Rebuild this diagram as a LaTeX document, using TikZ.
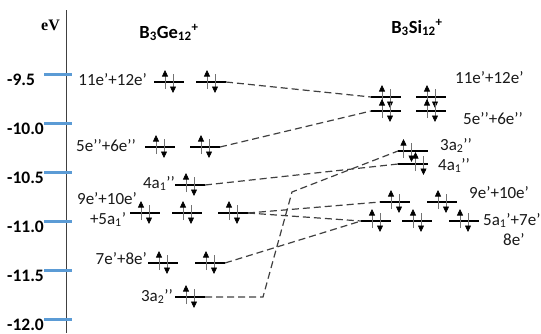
\documentclass[tikz,border=0pt]{standalone}
\usepackage{fontspec}
\setmainfont{Carlito}
\newfontfamily\unitfont{Liberation Serif}
\usetikzlibrary{arrows.meta}

% one electron pair drawn on a level: #1 = level node, #2 = horizontal shift
\newcommand\epair[2]{%
  \draw[spin] ([shift={(#2-4,7)}]#1.center) -- ++(0,-19);
  \draw[spin] ([shift={(#2+4,-8)}]#1.center) -- ++(0,19);
}

\begin{document}
\begin{tikzpicture}[x=1pt,y=-1pt,
  level/.style={rectangle,fill=black,draw=none,minimum width=30pt,minimum height=2.8pt,inner sep=0pt,outer sep=0pt},
  spin/.style={line width=0.6pt,draw=black!55,-{Triangle[width=6pt,length=6.5pt,color=black]}},
  link/.style={line width=1.2pt,draw=black!75,dash pattern=on 7pt off 4pt},
  tickmark/.style={line width=3pt,draw={rgb,255:red,91;green,155;blue,213}},
  lab/.style={font=\fontsize{17}{19}\selectfont,inner sep=0pt,text=black!90},
  ticklab/.style={font=\fontsize{17.5}{19}\selectfont\bfseries,inner sep=0pt,anchor=base west},
  title/.style={font=\fontsize{18.5}{20}\selectfont\bfseries,inner sep=0pt,anchor=base}]
\useasboundingbox (0,0) rectangle (541,333);

% energy axis
\draw[line width=1.8pt,draw=black!75] (66.5,10) -- (66.5,333);
\node[inner sep=0pt,anchor=base west,font=\unitfont\bfseries\fontsize{16}{18}\selectfont] (ev) at (41,30) {eV};
\foreach \k/\v in {0/-9.5,1/-10.0,2/-10.5,3/-11.0,4/-11.5,5/-12.0}{
  \draw[tickmark] (44,74.5+48.9*\k) -- (72,74.5+48.9*\k);
  \node[ticklab] at (7,85.5+48.9*\k) {\v};
}

% titles
\node[title] (tge) at (169,38) {B\textsubscript{3}Ge\textsubscript{12}\textsuperscript{+}};
\node[title] (tsi) at (417,33) {B\textsubscript{3}Si\textsubscript{12}\textsuperscript{+}};

% B3Ge12+ levels
\node[level] (g11a) at (169,82) {};
\node[level] (g11b) at (211,82) {};
\node[level] (g5a) at (160,147) {};
\node[level] (g5b) at (205,147) {};
\node[level] (g4a) at (190,185) {};
\node[level] (g9a) at (145,213) {};
\node[level] (g9b) at (187,213) {};
\node[level] (g9c) at (233,213) {};
\node[level] (g7a) at (163,263) {};
\node[level] (g7b) at (210,263) {};
\node[level] (g3a) at (190,297) {};

% B3Si12+ levels
\node[level] (s11a) at (386,97) {};
\node[level] (s11b) at (431,97) {};
\node[level] (s5a) at (386,111) {};
\node[level] (s5b) at (431,111) {};
\node[level] (s3a) at (413,151) {};
\node[level] (s4a) at (413,164) {};
\node[level] (s9a) at (395,202) {};
\node[level] (s9b) at (442,202) {};
\node[level] (s7a) at (376,221) {};
\node[level] (s7b) at (417,221) {};
\node[level] (s7c) at (464,221) {};

% correlation lines
\coordinate (bendA) at (263,297);
\coordinate (bendB) at (292,192);
\draw[link] (g11b.east) -- (s11a.west);
\draw[link] (g5b.east) -- (s5a.west);
\draw[link] (g4a.east) -- (s4a.west);
\draw[link] (g3a.east) -- (bendA) -- (bendB) -- (s3a.west);
\draw[link] (g9c.east) -- (s9a.west);
\draw[link] (g9c.east) -- (s7a.west);
\draw[link] (g7b.east) -- (s7a.west);

% electrons
\foreach \n in {g11a,g11b,g5a,g5b,g4a,g9a,g9b,g9c,g7a,g7b,g3a,
                s11a,s11b,s5a,s5b,s9a,s9b,s7a,s7b,s7c}{\epair{\n}{0}}
\epair{s3a}{-5.5}
\epair{s4a}{6.5}

% level labels, B3Ge12+
\node[lab,anchor=base east] at (147,85) {11e’+12e’};
\node[lab,anchor=base east] at (136,151) {5e’’+6e’’};
\node[lab,anchor=base east] at (175,188) {4a\textsubscript{1}’’};
\node[lab,anchor=base] at (107,204) {9e’+10e’};
\node[lab,anchor=base] at (108,224) {+5a\textsubscript{1}’};
\node[lab,anchor=base east] at (147,264) {7e’+8e’};
\node[lab,anchor=base east] at (173,301) {3a\textsubscript{2}’’};

% level labels, B3Si12+
\node[lab,anchor=base west] at (455,83) {11e’+12e’};
\node[lab,anchor=base west] at (463,124) {5e’’+6e’’};
\node[lab,anchor=base west] at (440,150) {3a\textsubscript{2}’’};
\node[lab,anchor=base west] at (438,170) {4a\textsubscript{1}’’};
\node[lab,anchor=base west] at (469,198) {9e’+10e’};
\node[lab,anchor=base west] at (483,225) {5a\textsubscript{1}’+7e’};
\node[lab,anchor=base west] at (503,245) {8e’};
\end{tikzpicture}
\end{document}
